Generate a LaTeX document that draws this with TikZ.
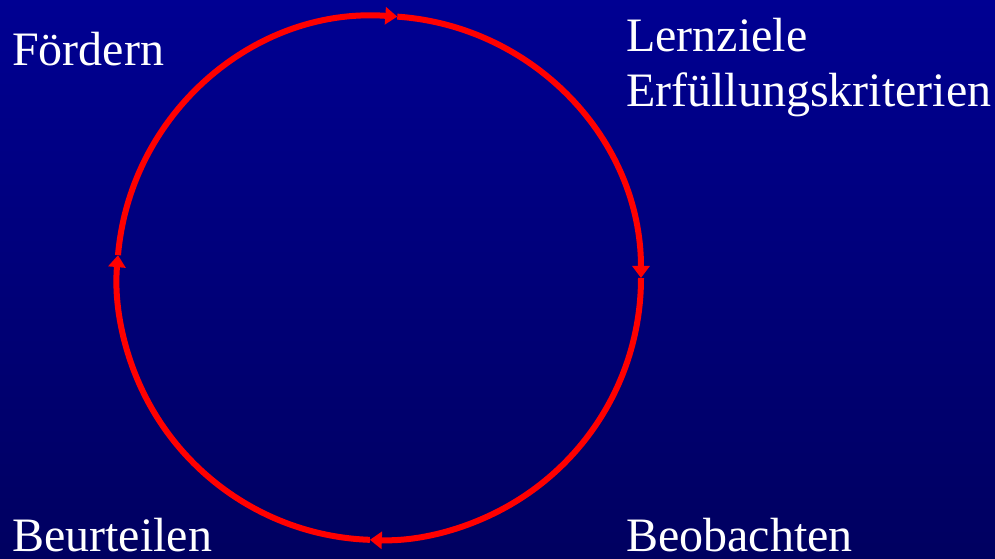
\documentclass[tikz,border=0pt]{standalone}
\usepackage{fontspec}
\setmainfont{Liberation Serif}
\usetikzlibrary{arrows.meta}
\definecolor{bgtop}{HTML}{000092}
\definecolor{bgbot}{HTML}{000060}
\definecolor{ringline}{HTML}{FF0000}
\tikzset{
  lbl/.style     = {anchor=base west, inner sep=0pt, text=white,
                    font=\fontsize{48}{55}\selectfont},
  ring/.style    = {draw=ringline, line width=6pt},
  ringarr/.style = {ring, -{Triangle[length=12pt, width=17pt]}},
}

\begin{document}
\begin{tikzpicture}[x=1pt, y=1pt]
\shade[top color=bgtop, bottom color=bgbot] (0,0) rectangle (995,559);
\useasboundingbox (0,0) rectangle (995,559);

% labels
\node[lbl] (foerdern) at (12,493) {Fördern};
\node[lbl] (ziele) at (626,507) {Lernziele};
\node[lbl] (kriterien) at (626,452) {Erfüllungskriterien};
\node[lbl] (beurteilen) at (12,7) {Beurteilen};
\node[lbl] (beobachten) at (626,7) {Beobachten};

% cycle
\coordinate (ctr) at (379,281);
\path (ctr) ++(175:262) coordinate (pleft);
\path (ctr) ++(86:262) coordinate (ptop);
\path (ctr) ++(0:262) coordinate (pright);
\path (ctr) ++(-92:262) coordinate (pbottom);

\draw[ringarr] (pleft) arc[start angle=175, end angle=86, radius=262pt];
\draw[ringarr] (ptop) arc[start angle=86, end angle=0, radius=262pt];
\draw[ringarr] (pright) arc[start angle=0, end angle=-92, radius=262pt];
\draw[ringarr] (pbottom) arc[start angle=-92, end angle=-185, radius=262pt];
\end{tikzpicture}
\end{document}
